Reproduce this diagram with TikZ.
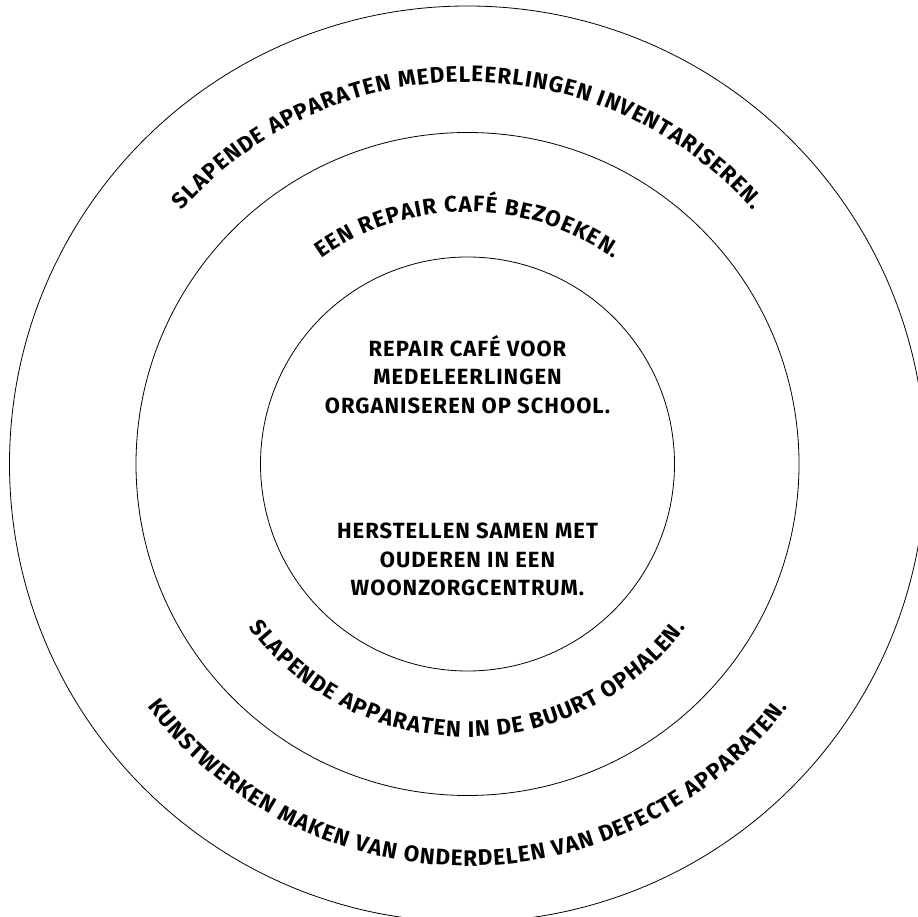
\documentclass[tikz,border=0pt]{standalone}
\usepackage{fontspec}
\setmainfont{Fira Sans}
\newfontfamily\midfamily{Fira Sans}[LetterSpace=4.5]
\usetikzlibrary{decorations.text}
\newcommand{\ringfont}{\bfseries\fontsize{22.5}{28.5}\selectfont}
\newcommand{\centrefont}{\midfamily\bfseries\fontsize{22}{28.5}\selectfont}

\begin{document}
\begin{tikzpicture}[x=1pt,y=1pt, ring/.style={draw,line width=0.8pt},
  mid/.style={align=center,font=\centrefont,inner sep=0pt},
  curve/.style={decorate,decoration={text effects along path,text={#1},text align=center,
    text effects/.cd,text along path,characters={font=\ringfont,inner sep=0pt},
    character widths={font=\ringfont,inner ysep=0pt,inner xsep=0.5pt}}}]
  \useasboundingbox (0,0) rectangle (918,916);
  \clip (0,0) rectangle (918,916);
  \coordinate (c) at (467.5,452);

  \draw[ring] (c) circle[radius=207pt];
  \draw[ring] (c) circle[radius=331.5pt];
  \draw[ring] (c) circle[radius=458pt];

  \node[mid] (t1) at ([yshift=89.5pt]c) {REPAIR CAFÉ VOOR\\MEDELEERLINGEN\\ORGANISEREN OP SCHOOL.};
  \node[mid] (t2) at ([yshift=-95.4pt]c) {HERSTELLEN SAMEN MET\\OUDEREN IN EEN\\WOONZORGCENTRUM.};

  \path[curve={SLAPENDE APPARATEN MEDELEERLINGEN INVENTARISEREN.}] ([shift={(180:382pt)}]c) arc[start angle=180,end angle=0,radius=382pt];
  \path[curve={EEN REPAIR CAFÉ BEZOEKEN.}] ([shift={(180:252pt)}]c) arc[start angle=180,end angle=0,radius=252pt];
  \path[curve={SLAPENDE APPARATEN IN DE BUURT OPHALEN.}] ([shift={(180:273pt)}]c) arc[start angle=180,end angle=360,radius=273pt];
  \path[curve={KUNSTWERKEN MAKEN VAN ONDERDELEN VAN DEFECTE APPARATEN.}] ([shift={(180:402pt)}]c) arc[start angle=180,end angle=360,radius=402pt];
\end{tikzpicture}
\end{document}
